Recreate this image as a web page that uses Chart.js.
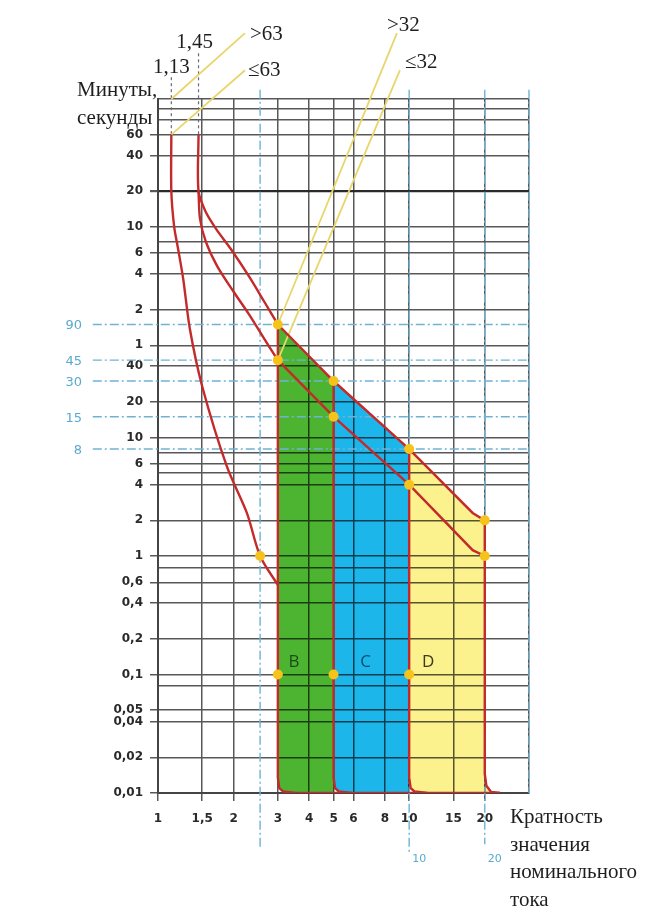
<!DOCTYPE html>
<html lang="ru">
<head>
<meta charset="utf-8">
<title>Время-токовые характеристики B, C, D</title>
<script src="https://cdn.jsdelivr.net/npm/chart.js@4.4.1/dist/chart.umd.min.js"></script>
<style>
  html, body { margin: 0; padding: 0; background: #ffffff; }
  #box { position: relative; width: 648px; height: 909px; }
</style>
</head>
<body>
<div id="box"><canvas id="chart" width="648" height="909"></canvas></div>
<script>
// Horizontal axis: multiple of the rated current (logarithmic)
const multipleTicks = [1, 1.5, 2, 3, 4, 5, 6, 8, 10, 15, 20];
const multipleLabels = ['1', '1,5', '2', '3', '4', '5', '6', '8', '10', '15', '20'];
const multipleExtraLines = [30];

// Vertical axis: tripping time in seconds; from 60 s upward the labels are minutes
const timeTicks = [3600, 2400, 1200, 600, 360, 240, 120, 60, 40, 20, 10, 6, 4, 2, 1, 0.6, 0.4, 0.2, 0.1, 0.05, 0.04, 0.02, 0.01];
const timeLabels = ['60', '40', '20', '10', '6', '4', '2', '1', '40', '20', '10', '6', '4', '2', '1', '0,6', '0,4', '0,2', '0,1', '0,05', '0,04', '0,02', '0,01'];
const timeExtraLines = [7200, 6000, 4800, 450, 7.5, 5, 0.8, 0.08];

// Dash-dot reference lines
const refTimes = [90, 45, 30, 15, 8];
const refMultiples = [2.55, 10, 20, 30];
const refMultipleLabels = ['', '10', '20', ''];

// Conventional test currents
const testMultiples = [1.13, 1.45];
const testLabels = ['1,13', '1,45'];
const testTime = 3600;

// Tripping curves, [multiple, seconds]
const curve113 = [[1.13, 3600], [1.13, 1200], [1.16, 600], [1.2, 400], [1.26, 218], [1.34, 82], [1.5, 27], [1.88, 5.7], [2.26, 2.3], [2.55, 1], [3, 0.57]];
const upperBend = [[1.45, 3600], [1.45, 1200], [1.55, 800], [1.7, 580], [1.95, 390], [2.3, 230], [2.65, 140], [3, 90]];
const upperLine = [[3, 90], [5, 30], [10, 8], [17.9, 2.31], [20, 2], [20, 0.0145], [20.3, 0.0115], [21.2, 0.0102], [23, 0.01]];
const lowerBend = [[1.45, 1200], [1.47, 700], [1.55, 450], [1.72, 280], [2, 170], [2.3, 110], [2.65, 68], [3, 45]];
const lowerLine = [[3, 45], [5, 15], [10, 4], [17.9, 1.12], [20, 1]];
const edgeB = [[3, 90], [3, 0.0135], [3.04, 0.011], [3.15, 0.0103], [3.55, 0.01]];
const edgeC = [[5, 30], [5, 0.0135], [5.07, 0.011], [5.25, 0.0103], [5.9, 0.01]];
const edgeD = [[10, 8], [10, 0.0135], [10.14, 0.011], [10.5, 0.0103], [11.8, 0.01]];
const edgeBottom = [[3.55, 0.01], [23, 0.01]];

// Tripping zones of characteristics B, C, D
const bandB = [[3, 90], [5, 30], [5, 0.01], [3.55, 0.01], [3.15, 0.0103], [3.04, 0.011], [3, 0.0135]];
const bandC = [[5, 30], [10, 8], [10, 0.01], [5.9, 0.01], [5.25, 0.0103], [5.07, 0.011], [5, 0.0135]];
const bandD = [[10, 8], [17.9, 2.31], [20, 2], [20, 0.0145], [20.3, 0.0115], [21.2, 0.0102], [23, 0.01], [11.8, 0.01], [10.5, 0.0103], [10.14, 0.011], [10, 0.0135]];
const bandNames = ['B', 'C', 'D'];

// Marked points
const dotMultiples = [3, 3, 5, 5, 10, 10, 20, 20, 2.55, 3, 5, 10];
const dotTimes = [90, 45, 30, 15, 8, 4, 2, 1, 1, 0.1, 0.1, 0.1];

// Leader lines to the rated-current notes
const leaders = [
  [[1.13, 7200], [2.22, 25900]],
  [[1.13, 3600], [2.22, 12600]],
  [[3, 90], [8.94, 25900]],
  [[3, 45], [9.19, 12600]]
];
const leaderTexts = ['>63', '≤63', '>32', '≤32'];

const RED = '#c42a2a';
const GRID = '#585858';
const REF_BLUE = '#6fb2d6';
const P = arr => arr.map(([m, t]) => ({ x: m, y: t }));

const datasets = [];
[[bandB, '#4db431'], [bandC, '#1cb6ea'], [bandD, '#fbf18d']].forEach(([band, colour], i) => {
  datasets.push({ data: P(band), fill: 'shape', backgroundColor: colour, borderWidth: 0, pointRadius: 0, tension: 0, order: 30 - i });
});
refTimes.forEach(t => {
  datasets.push({ data: [{ x: 0.55, y: t }, { x: 30, y: t }], borderColor: REF_BLUE, borderWidth: 1.4, borderDash: [9, 3, 2, 3], pointRadius: 0, fill: false, clip: false, order: 12 });
});
const refBottoms = [0.0034, 0.0032, 0.0037, 0.01];
refMultiples.forEach((m, i) => {
  datasets.push({ data: [{ x: m, y: 8600 }, { x: m, y: refBottoms[i] }], borderColor: REF_BLUE, borderWidth: 1.4, borderDash: [9, 3, 2, 3], pointRadius: 0, fill: false, clip: false, order: 12 });
});
const guideTops = [11000, 17500];
testMultiples.forEach((m, i) => {
  datasets.push({ data: [{ x: m, y: guideTops[i] }, { x: m, y: testTime }], borderColor: '#6a6a78', borderWidth: 1.2, borderDash: [3, 3], pointRadius: 0, fill: false, clip: false, order: 11 });
});
leaders.forEach(seg => {
  datasets.push({ data: P(seg), borderColor: '#e8d66c', borderWidth: 1.8, pointRadius: 0, fill: false, clip: false, order: 10 });
});
[[curve113, 0.3], [upperBend, 0.3], [lowerBend, 0.3], [upperLine, 0], [lowerLine, 0], [edgeB, 0], [edgeC, 0], [edgeD, 0], [edgeBottom, 0]].forEach(([c, tension]) => {
  datasets.push({ data: P(c), borderColor: RED, borderWidth: 2.4, pointRadius: 0, fill: false, tension, order: 5 });
});
datasets.push({
  data: dotMultiples.map((m, i) => ({ x: m, y: dotTimes[i] })),
  showLine: false, pointRadius: 5, pointBackgroundColor: '#f6c21c', pointBorderWidth: 0, order: 1
});

// Zones are multiplied onto the grid so the grid stays visible through them;
// the notes and captions are written last.
const notes = {
  id: 'notes',
  beforeDatasetsDraw(chart) { chart.ctx.globalCompositeOperation = 'multiply'; },
  beforeDatasetDraw(chart, args) {
    if (chart.data.datasets[args.index].fill !== 'shape') chart.ctx.globalCompositeOperation = 'source-over';
  },
  afterDatasetsDraw(chart) { chart.ctx.globalCompositeOperation = 'source-over'; },
  afterDraw(chart) {
    const { ctx } = chart;
    const x = chart.scales.x, y = chart.scales.y;
    ctx.save();
    ctx.globalCompositeOperation = 'source-over';
    ctx.fillStyle = '#1e1e1e';
    ctx.textBaseline = 'alphabetic';
    ctx.font = '21px "Liberation Serif", "Times New Roman", serif';
    ctx.textAlign = 'center';
    ctx.fillText(testLabels[0], x.getPixelForValue(testMultiples[0]), 73);
    ctx.fillText(testLabels[1], x.getPixelForValue(testMultiples[1]) - 4, 48);
    ctx.textAlign = 'left';
    const leaderOffsets = [[5, 7], [3, 6], [-10, -2], [5, -2]];
    leaders.forEach((seg, i) => {
      const [m, t] = seg[1];
      ctx.fillText(leaderTexts[i], x.getPixelForValue(m) + leaderOffsets[i][0], y.getPixelForValue(t) + leaderOffsets[i][1]);
    });
    ctx.fillText('Минуты,', 77, 96);
    ctx.fillText('секунды', 77, 124);
    ['Кратность', 'значения', 'номинального', 'тока'].forEach((s, i) => ctx.fillText(s, 510, 823 + i * 27.5));

    ctx.fillStyle = '#5aa9d0';
    ctx.font = '13px "DejaVu Sans", sans-serif';
    ctx.textAlign = 'right';
    refTimes.forEach(t => ctx.fillText(String(t), 82, y.getPixelForValue(t) + 5));
    ctx.font = '11px "DejaVu Sans", sans-serif';
    ctx.textAlign = 'left';
    refMultiples.forEach((m, i) => {
      if (refMultipleLabels[i]) ctx.fillText(refMultipleLabels[i], x.getPixelForValue(m) + 3, 862);
    });

    ctx.font = '17px "Open Sans", "DejaVu Sans", sans-serif';
    ctx.textAlign = 'center';
    const letterColours = ['#1d4a19', '#0e4c6e', '#3b3a1c'];
    const letterAt = [3.48, 6.7, 11.9];
    bandNames.forEach((n, i) => {
      ctx.fillStyle = letterColours[i];
      ctx.fillText(n, x.getPixelForValue(letterAt[i]), y.getPixelForValue(0.13) + 6);
    });
    ctx.restore();
  }
};

const tickFont = { family: '"DejaVu Sans", sans-serif', size: 12, weight: 'bold' };

new Chart(document.getElementById('chart'), {
  type: 'line',
  data: { datasets },
  options: {
    responsive: false,
    animation: false,
    devicePixelRatio: 1,
    events: [],
    layout: { padding: { top: 99, right: 119, bottom: 0, left: 0 } },
    plugins: { legend: { display: false }, tooltip: { enabled: false } },
    scales: {
      x: {
        type: 'logarithmic', position: 'bottom', min: 1, max: 30,
        afterBuildTicks: s => { s.ticks = multipleTicks.concat(multipleExtraLines).map(v => ({ value: v })); },
        afterFit: s => { s.height = 116; },
        ticks: {
          autoSkip: false, maxRotation: 0, minRotation: 0, padding: 11, color: '#2a2a2a', font: tickFont,
          callback: v => { const i = multipleTicks.indexOf(v); return i < 0 ? '' : multipleLabels[i]; }
        },
        grid: {
          color: GRID, lineWidth: 1.5, tickLength: 8,
          tickColor: c => (c.tick && multipleTicks.includes(c.tick.value)) ? GRID : 'rgba(0,0,0,0)'
        },
        border: { display: true, color: '#444', width: 2 }
      },
      y: {
        type: 'logarithmic', position: 'left', min: 0.01, max: 7200,
        afterBuildTicks: s => { s.ticks = timeTicks.concat(timeExtraLines).map(v => ({ value: v })); },
        afterFit: s => { s.width = 158; },
        ticks: {
          autoSkip: false, padding: 7, color: '#2a2a2a', font: tickFont,
          callback: v => { const i = timeTicks.indexOf(v); return i < 0 ? '' : timeLabels[i]; }
        },
        grid: {
          color: c => (c.tick && c.tick.value === 1200) ? '#2a2a2a' : GRID,
          lineWidth: c => (c.tick && c.tick.value === 1200) ? 2.2 : 1.5,
          tickLength: 8,
          tickColor: c => (c.tick && timeTicks.includes(c.tick.value)) ? GRID : 'rgba(0,0,0,0)'
        },
        border: { display: true, color: '#444', width: 2 }
      }
    }
  },
  plugins: [notes]
});
</script>
</body>
</html>
